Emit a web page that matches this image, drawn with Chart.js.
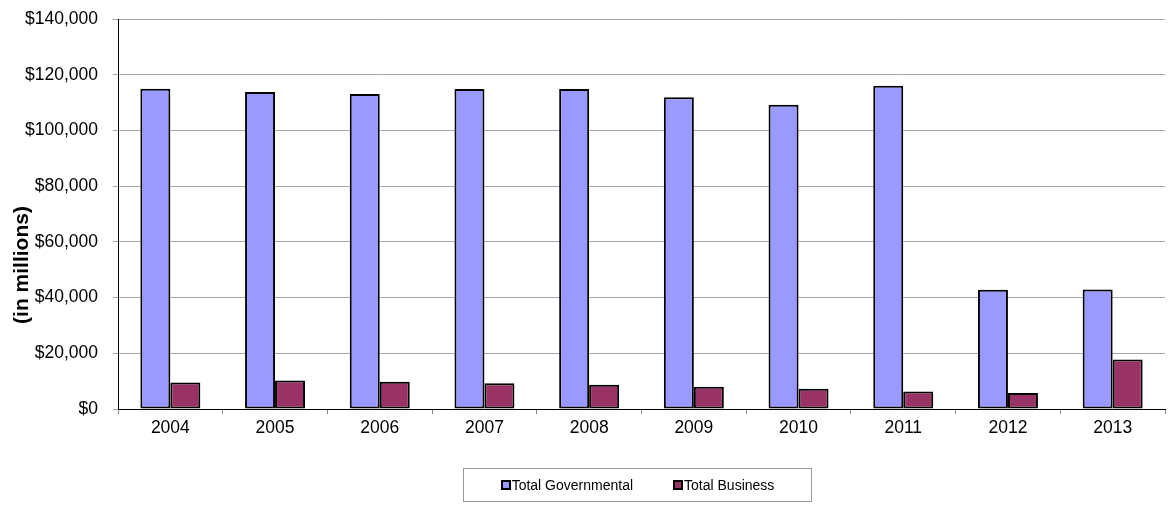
<!DOCTYPE html>
<html>
<head>
<meta charset="utf-8">
<script src="https://cdn.jsdelivr.net/npm/chart.js@4"></script>
<style>
  body { margin: 0; background: #fff; }
  #wrap { position: relative; width: 1176px; height: 508px; }
  #legend {
    position: absolute; left: 463px; top: 468px; width: 349px; height: 34px;
    border: 1px solid #9a9a9a; box-sizing: border-box;
    display: flex; align-items: center; justify-content: center; gap: 40px;
    font-family: "Liberation Sans", Arial, sans-serif; font-size: 14px; color: #000;
  }
  #legend .item { display: flex; align-items: center; }
  #legend .box { width: 6px; height: 6px; border: 2px solid #000; margin-right: 1px; }
</style>
</head>
<body>
<div id="wrap">
  <canvas id="chart" width="1176" height="508"></canvas>
  <div id="legend"></div>
</div>
<script>
const years = ["2004", "2005", "2006", "2007", "2008", "2009", "2010", "2011", "2012", "2013"];
const governmental = [115000, 113800, 113100, 114900, 114900, 111900, 109200, 116000, 42800, 42900];
const business = [9550, 10250, 9800, 9200, 8700, 8000, 7300, 6300, 5750, 17800];
const yTicks = [0, 20000, 40000, 60000, 80000, 100000, 120000, 140000];

const fontFamily = '"Liberation Sans", Arial, sans-serif';

// rotated "(in millions)" label left of the value axis
const axisTitle = {
  id: "axisTitle",
  afterDraw(chart) {
    const ctx = chart.ctx;
    const area = chart.chartArea;
    ctx.save();
    ctx.translate(22, area.bottom - 144);
    ctx.rotate(-Math.PI / 2);
    ctx.font = "bold 21px " + fontFamily;
    ctx.fillStyle = "#000";
    ctx.textAlign = "center";
    ctx.textBaseline = "middle";
    ctx.fillText("(in millions)", 0, 0);
    ctx.restore();
  },
};

const ctx = document.getElementById("chart").getContext("2d");
const chart = new Chart(ctx, {
  type: "bar",
  data: {
    labels: years,
    datasets: [
      {
        label: "Total Governmental",
        data: governmental,
        backgroundColor: "#9999ff",
        borderColor: "#000",
        borderWidth: 2,
        borderSkipped: false,
      },
      {
        label: "Total Business",
        data: business,
        backgroundColor: "#993366",
        borderColor: "#000",
        borderWidth: 2,
        borderSkipped: false,
      },
    ],
  },
  options: {
    responsive: false,
    animation: false,
    devicePixelRatio: 1,
    layout: { padding: { top: 19, right: 11, left: 0, bottom: 0 } },
    datasets: { bar: { barPercentage: 1, categoryPercentage: 0.573 } },
    plugins: {
      legend: { display: false },
      tooltip: { enabled: false },
    },
    scales: {
      x: {
        grid: { drawOnChartArea: false, tickLength: 5, color: "#888" },
        border: { color: "#000", width: 1 },
        ticks: { color: "#000", padding: 4, font: { family: fontFamily, size: 17.5 } },
        afterFit: (scale) => {
          scale.height = 99;
          scale.paddingLeft = 0;
          scale.paddingRight = 0;
        },
      },
      y: {
        min: 0,
        max: yTicks[yTicks.length - 1],
        afterBuildTicks: (scale) => { scale.ticks = yTicks.map((v) => ({ value: v })); },
        grid: { color: "#a6a6a6", tickLength: 5 },
        border: { color: "#000", width: 1 },
        ticks: {
          color: "#000",
          padding: 15,
          font: { family: fontFamily, size: 17.5 },
          callback: (v) => "$" + Number(v).toLocaleString("en-US"),
        },
        afterFit: (scale) => {
          scale.width = 118;
          scale.paddingTop = 0;
          scale.paddingBottom = 0;
        },
      },
    },
  },
  plugins: [axisTitle],
});

// legend built from the datasets
const legend = document.getElementById("legend");
chart.data.datasets.forEach((ds) => {
  const item = document.createElement("div");
  item.className = "item";
  const box = document.createElement("span");
  box.className = "box";
  box.style.background = ds.backgroundColor;
  const text = document.createElement("span");
  text.textContent = ds.label;
  item.appendChild(box);
  item.appendChild(text);
  legend.appendChild(item);
});
</script>
</body>
</html>
